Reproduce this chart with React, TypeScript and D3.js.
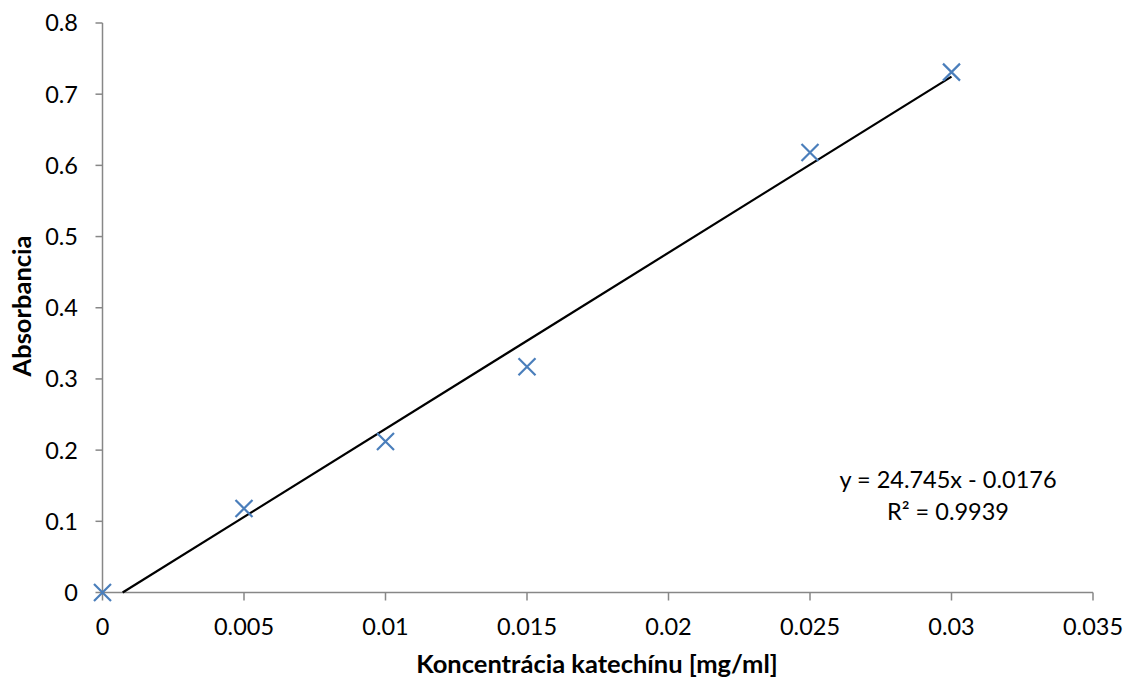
import React from "react";
import * as d3 from "d3";

const concentrations = [0, 0.005, 0.01, 0.015, 0.025, 0.03];
const absorbances = [0, 0.118, 0.212, 0.317, 0.618, 0.731];
const xTicks = [0, 0.005, 0.01, 0.015, 0.02, 0.025, 0.03, 0.035];
const yTicks = [0, 0.1, 0.2, 0.3, 0.4, 0.5, 0.6, 0.7, 0.8];
const slope = 24.745;
const intercept = -0.0176;
const r2 = 0.9939;

const W = 1128;
const H = 680;
const FONT = "Lato, 'Open Sans', sans-serif";

export default function App() {
  const x = d3.scaleLinear().domain([0, 0.035]).range([102.5, 1093]);
  const y = d3.scaleLinear().domain([0, 0.8]).range([592.5, 23]);
  const axisColor = "#878787";
  const x0 = -intercept / slope;
  const x1 = d3.max(concentrations) as number;
  const lineGen = d3.line<[number, number]>().x((d) => x(d[0])).y((d) => y(d[1]));
  const trend: [number, number][] = [
    [x0, slope * x0 + intercept],
    [x1, slope * x1 + intercept],
  ];
  const m = 8.5;
  return (
    <svg width={W} height={H} style={{ position: "absolute", left: 0, top: 0, background: "#fff" }}>
      {/* y axis */}
      <line x1={x(0)} x2={x(0)} y1={y(0.8)} y2={y(0)} stroke={axisColor} strokeWidth={1.5} />
      {yTicks.map((t) => (
        <g key={"y" + t}>
          <line x1={x(0) - 7} x2={x(0)} y1={y(t)} y2={y(t)} stroke={axisColor} strokeWidth={1.5} />
          <text x={78} y={y(t)} dy="0.36em" textAnchor="end" fontFamily={FONT} fontSize={23.5} fill="#000">
            {String(+t.toFixed(1))}
          </text>
        </g>
      ))}
      {/* x axis */}
      <line x1={x(0)} x2={x(0.035)} y1={y(0)} y2={y(0)} stroke={axisColor} strokeWidth={1.5} />
      {xTicks.map((t) => (
        <g key={"x" + t}>
          <line x1={x(t)} x2={x(t)} y1={y(0)} y2={y(0) + 8} stroke={axisColor} strokeWidth={1.5} />
          <text x={x(t)} y={627} dy="0.36em" textAnchor="middle" fontFamily={FONT} fontSize={23.5} fill="#000">
            {String(+t.toFixed(3))}
          </text>
        </g>
      ))}
      {/* trendline */}
      <path d={lineGen(trend) || ""} stroke="#000" strokeWidth={2.2} fill="none" />
      {/* markers */}
      {concentrations.map((c, i) => {
        const cx = x(c);
        const cy = y(absorbances[i]);
        return (
          <path
            key={"p" + i}
            d={`M${cx - m},${cy - m}L${cx + m},${cy + m}M${cx - m},${cy + m}L${cx + m},${cy - m}`}
            stroke="#4A7EBB"
            strokeWidth={2.2}
            fill="none"
          />
        );
      })}
      {/* equation */}
      <text x={948} y={480} dy="0.36em" textAnchor="middle" fontFamily={FONT} fontSize={23.5} fill="#000">
        {`y = ${slope}x - ${Math.abs(intercept)}`}
      </text>
      <text x={948} y={512} dy="0.36em" textAnchor="middle" fontFamily={FONT} fontSize={23.5} fill="#000">
        {`R² = ${r2}`}
      </text>
      {/* axis titles */}
      <text x={597} y={664} dy="0.36em" textAnchor="middle" fontFamily={FONT} fontSize={25.5} fontWeight="bold" fill="#000">
        Koncentrácia katechínu [mg/ml]
      </text>
      <text
        transform={`translate(22,306) rotate(-90)`}
        dy="0.36em"
        textAnchor="middle"
        fontFamily={FONT}
        fontSize={25.5}
        fontWeight="bold"
        fill="#000"
      >
        Absorbancia
      </text>
    </svg>
  );
}
